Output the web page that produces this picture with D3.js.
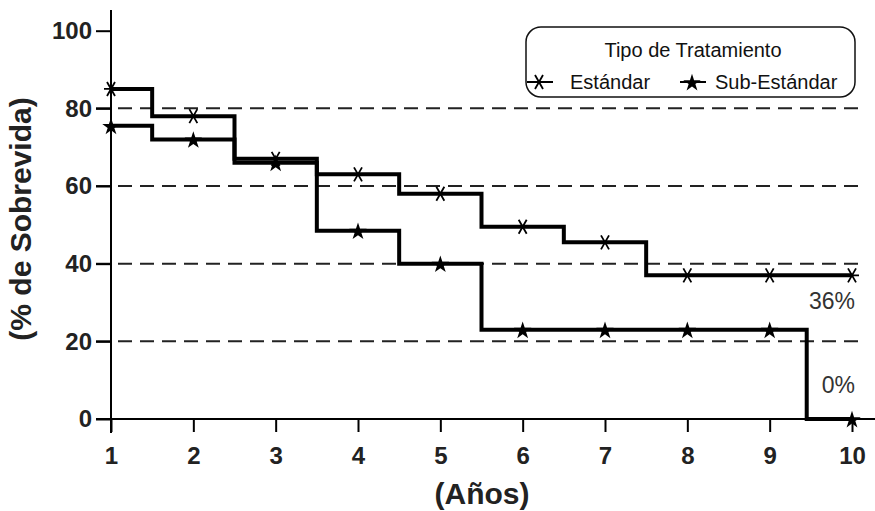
<!DOCTYPE html>
<html><head><meta charset="utf-8">
<script src="https://cdn.jsdelivr.net/npm/d3@7"></script>
<style>body{margin:0;background:#fff}svg{display:block}</style>
</head><body><svg id="c" width="875" height="511"></svg>
<script>
const years = [1,2,3,4,5,6,7,8,9,10];
const yTicks = [0,20,40,60,80,100];
const gridValues = [20,40,60,80];
// step curves: change points (time, value)
const estTimes = [1,1.5,2.5,3.5,4.5,5.5,6.5,7.5,10];
const estValues = [85,78,67,63,58,49.5,45.5,37,37];
const subTimes = [1,1.5,2.5,3.5,4.5,5.5,9.45,10];
const subValues = [75.5,72,66,48.5,40,23,0,0];
// markers at integer years
const estMarks = [85,78,67,63,58,49.5,45.5,37,37,37];
const subMarks = [75.5,72,66,48.5,40,23,23,23,23,0];
const seriesNames = ["Estándar","Sub-Estándar"];
const legendTitle = "Tipo de Tratamiento";
const endLabels = ["36%","0%"];

const FONT = "Liberation Sans, Arial, sans-serif";
const svg = d3.select("#c");
const x = d3.scaleLinear().domain([1,10]).range([111,852]);
const y = d3.scaleLinear().domain([0,100]).range([419,30.7]);

// grid
svg.append("g").selectAll("line").data(gridValues).join("line")
  .attr("x1",96).attr("x2",866).attr("y1",d=>y(d)).attr("y2",d=>y(d))
  .attr("stroke","#222").attr("stroke-width",2).attr("stroke-dasharray","14,8");

// y axis
const ya = svg.append("g").attr("transform","translate(111,0)")
  .call(d3.axisLeft(y).tickValues(yTicks).tickSize(15).tickPadding(4));
ya.select(".domain").remove();
ya.append("line").attr("x1",0).attr("x2",0).attr("y1",10).attr("y2",433).attr("stroke","#000").attr("stroke-width",2);
ya.selectAll(".tick line").attr("stroke","#000").attr("stroke-width",2);
ya.selectAll(".tick text").attr("fill","#222").style("font-family",FONT)
  .style("font-weight","bold").style("font-size","24px");

// x axis
const xa = svg.append("g").attr("transform","translate(0,419)")
  .call(d3.axisBottom(x).tickValues(years).tickFormat(d3.format("d")).tickSize(13).tickPadding(15));
xa.select(".domain").remove();
xa.append("line").attr("x1",96).attr("x2",875).attr("y1",0).attr("y2",0).attr("stroke","#000").attr("stroke-width",2);
xa.selectAll(".tick line").attr("stroke","#000").attr("stroke-width",2);
xa.selectAll(".tick text").attr("fill","#222").style("font-family",FONT)
  .style("font-weight","bold").style("font-size","24px");

// axis titles
svg.append("text").attr("x",482).attr("y",504).attr("text-anchor","middle")
  .style("font-family",FONT).style("font-weight","bold").style("font-size","30px")
  .attr("fill","#222").text("(Años)");
svg.append("text").attr("transform","translate(31,219) rotate(-90)").attr("text-anchor","middle")
  .style("font-family",FONT).style("font-weight","bold").style("font-size","30px")
  .attr("fill","#222").text("(% de Sobrevida)");

// step lines
const line = d3.line().x(d=>x(d[0])).y(d=>y(d[1])).curve(d3.curveStepAfter);
svg.append("path").datum(subTimes.map((t,i)=>[t,subValues[i]]))
  .attr("d",line).attr("fill","none").attr("stroke","#000").attr("stroke-width",4);
svg.append("path").datum(estTimes.map((t,i)=>[t,estValues[i]]))
  .attr("d",line).attr("fill","none").attr("stroke","#000").attr("stroke-width",4);

// marker shapes
function asterisk(g){
  g.append("path").attr("d","M-7,0L7,0M-4,-7L4,7M4,-7L-4,7").attr("stroke","#000").attr("stroke-width",1.8).attr("fill","none");
}
function star(g){
  g.append("path").attr("d",d3.symbol().type(d3.symbolStar).size(95)()).attr("fill","#000").attr("transform","translate(0,1)");
}
svg.append("g").selectAll("g").data(years.map((t,i)=>[t,estMarks[i]])).join("g")
  .attr("transform",d=>`translate(${x(d[0])},${y(d[1])})`).each(function(){asterisk(d3.select(this));});
svg.append("g").selectAll("g").data(years.map((t,i)=>[t,subMarks[i]])).join("g")
  .attr("transform",d=>`translate(${x(d[0])},${y(d[1])})`).each(function(){star(d3.select(this));});

// end labels
const endY = [y(estMarks[9]) + 34, y(subMarks[9]) - 26];
svg.append("g").selectAll("text").data(endLabels).join("text")
  .attr("x",855).attr("y",(d,i)=>endY[i]).attr("text-anchor","end")
  .style("font-family",FONT).style("font-size","23px").attr("fill","#333").text(d=>d);

// legend
const lg = svg.append("g");
lg.append("rect").attr("x",526).attr("y",27).attr("width",329).attr("height",70).attr("rx",15)
  .attr("fill","#fff").attr("stroke","#111").attr("stroke-width",1.5);
lg.append("text").attr("x",693).attr("y",57).attr("text-anchor","middle")
  .style("font-family",FONT).style("font-size","20px").attr("fill","#111").text(legendTitle);
const legX = [527,680];
const legTextX = [43,35];
seriesNames.forEach((n,i)=>{
  const g = lg.append("g").attr("transform",`translate(${legX[i]},82)`);
  g.append("line").attr("x1",0).attr("x2",26).attr("y1",0).attr("y2",0).attr("stroke","#000").attr("stroke-width",2);
  const m = g.append("g").attr("transform","translate(12,0)");
  if(i===0) asterisk(m); else star(m);
  g.append("text").attr("x",legTextX[i]).attr("y",7)
    .style("font-family",FONT).style("font-size","20px").attr("fill","#111").text(n);
});
</script></body></html>
